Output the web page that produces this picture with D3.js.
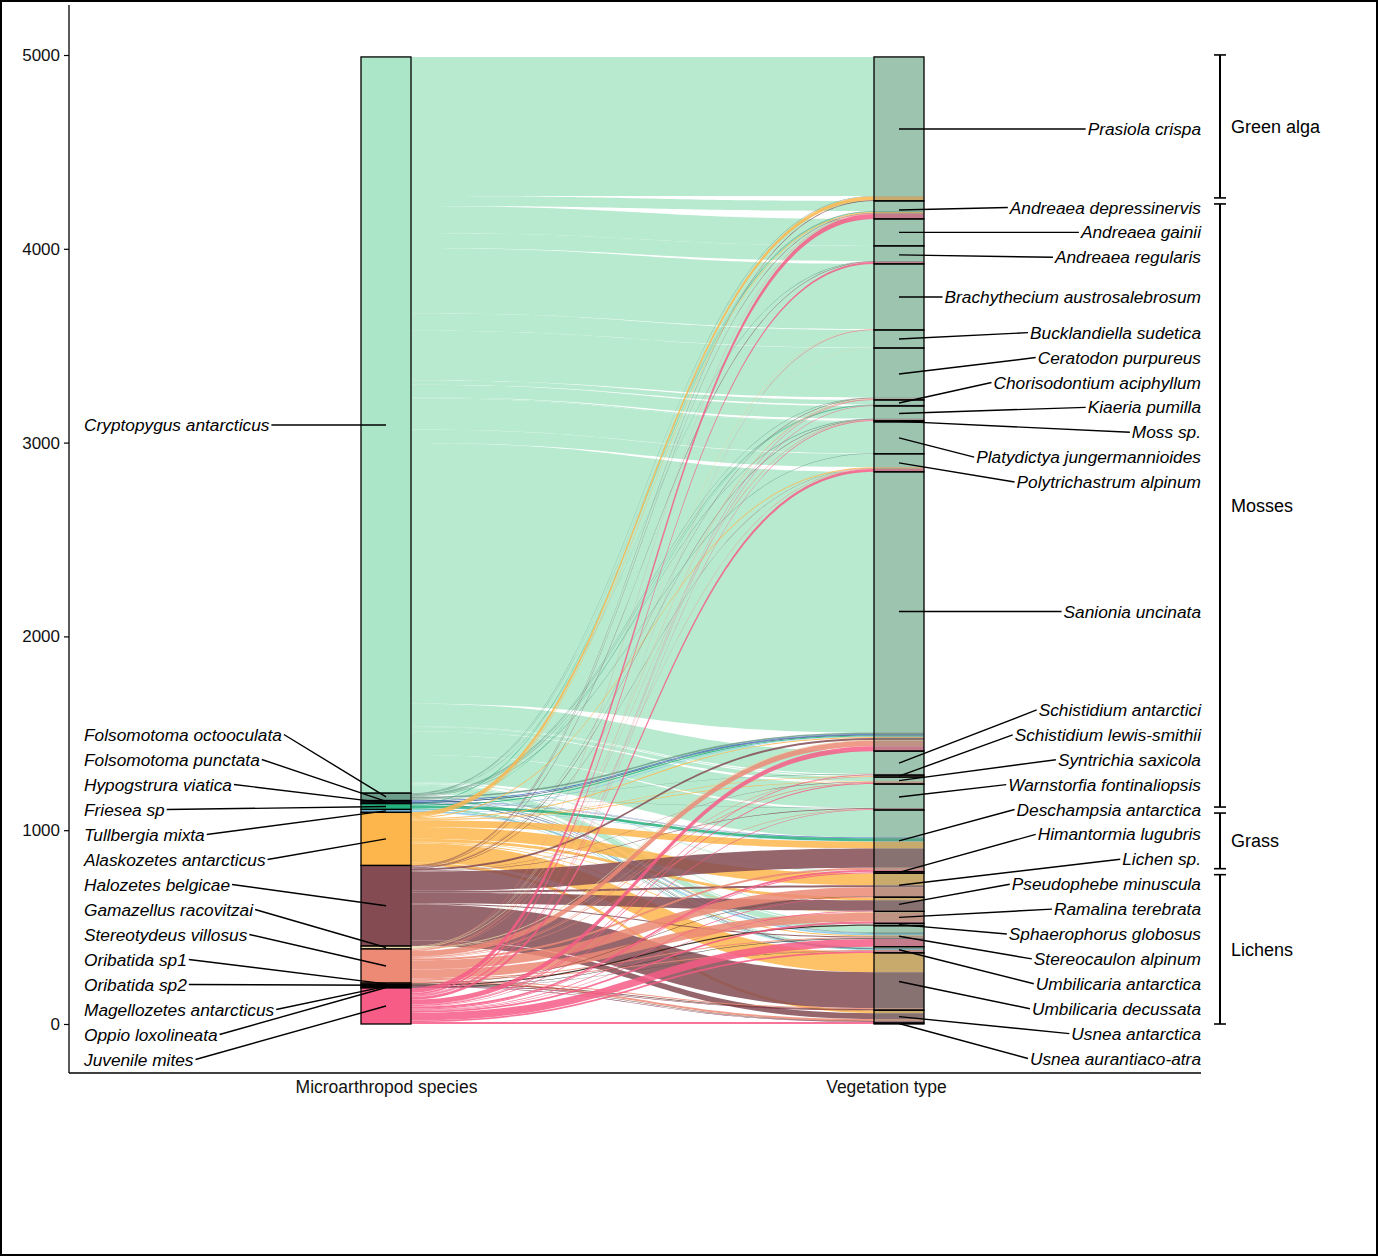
<!DOCTYPE html>
<html><head><meta charset="utf-8">
<script src="https://cdn.jsdelivr.net/npm/d3@7"></script>
<style>body{margin:0;background:#fff}svg{display:block}</style>
</head><body>
<svg id="chart" width="1378" height="1256"></svg>
<script>
// ---------------- DATA ----------------
const species = ["Cryptopygus antarcticus","Folsomotoma octooculata","Folsomotoma punctata","Hypogstrura viatica","Friesea sp","Tullbergia mixta","Alaskozetes antarcticus","Halozetes belgicae","Gamazellus racovitzai","Stereotydeus villosus","Oribatida sp1","Oribatida sp2","Magellozetes antarcticus","Oppio loxolineata","Juvenile mites"];
const speciesColors = ["#abe6c8","#6d9d8b","#3f63c4","#23406e","#24b07e","#80c6e8","#fdb64c","#844b53","#e6d2a0","#ec8a76","#6b3b2b","#2a1a12","#7a2040","#3a3a3a","#f65c86"];
const vegetation = ["Prasiola crispa","Andreaea depressinervis","Andreaea gainii","Andreaea regularis","Brachythecium austrosalebrosum","Bucklandiella sudetica","Ceratodon purpureus","Chorisodontium aciphyllum","Kiaeria pumilla","Moss sp.","Platydictya jungermannioides","Polytrichastrum alpinum","Sanionia uncinata","Schistidium antarctici","Schistidium lewis-smithii","Syntrichia saxicola","Warnstorfia fontinaliopsis","Deschampsia antarctica","Himantormia lugubris","Lichen sp.","Pseudophebe minuscula","Ramalina terebrata","Sphaerophorus globosus","Stereocaulon alpinum","Umbilicaria antarctica","Umbilicaria decussata","Usnea antarctica","Usnea aurantiaco-atra"];
const vegetationGroups = ["Green alga","Mosses","Grass","Lichens"];
const vegetationGroupIndex = [0,1,1,1,1,1,1,1,1,1,1,1,1,1,1,1,1,2,3,3,3,3,3,3,3,3,3,3];
const axisNames = ["Microarthropod species","Vegetation type"];
const yTicks = [0,1000,2000,3000,4000,5000];
// flows: [species, vegetation, count]
const flows = [
 ["Cryptopygus antarcticus","Prasiola crispa",717],["Cryptopygus antarcticus","Andreaea depressinervis",52],["Cryptopygus antarcticus","Andreaea gainii",139],["Cryptopygus antarcticus","Andreaea regularis",78],["Cryptopygus antarcticus","Brachythecium austrosalebrosum",336],["Cryptopygus antarcticus","Bucklandiella sudetica",91],["Cryptopygus antarcticus","Ceratodon purpureus",255],["Cryptopygus antarcticus","Chorisodontium aciphyllum",23],["Cryptopygus antarcticus","Kiaeria pumilla",65],["Cryptopygus antarcticus","Moss sp.",5],["Cryptopygus antarcticus","Platydictya jungermannioides",162],["Cryptopygus antarcticus","Polytrichastrum alpinum",69],["Cryptopygus antarcticus","Sanionia uncinata",1345],["Cryptopygus antarcticus","Schistidium antarctici",117],["Cryptopygus antarcticus","Schistidium lewis-smithii",4],["Cryptopygus antarcticus","Syntrichia saxicola",21],["Cryptopygus antarcticus","Warnstorfia fontinaliopsis",123],["Cryptopygus antarcticus","Deschampsia antarctica",142],["Cryptopygus antarcticus","Himantormia lugubris",3],["Cryptopygus antarcticus","Lichen sp.",2],["Cryptopygus antarcticus","Ramalina terebrata",4],["Cryptopygus antarcticus","Sphaerophorus globosus",6],["Cryptopygus antarcticus","Stereocaulon alpinum",34],["Cryptopygus antarcticus","Umbilicaria antarctica",6],
 ["Folsomotoma octooculata","Prasiola crispa",3],["Folsomotoma octooculata","Andreaea depressinervis",2],["Folsomotoma octooculata","Andreaea regularis",2],["Folsomotoma octooculata","Ceratodon purpureus",3],["Folsomotoma octooculata","Chorisodontium aciphyllum",3],["Folsomotoma octooculata","Kiaeria pumilla",3],["Folsomotoma octooculata","Platydictya jungermannioides",3],["Folsomotoma octooculata","Sanionia uncinata",8],["Folsomotoma octooculata","Schistidium antarctici",2],["Folsomotoma octooculata","Warnstorfia fontinaliopsis",2],["Folsomotoma octooculata","Stereocaulon alpinum",4],["Folsomotoma octooculata","Umbilicaria antarctica",3],
 ["Folsomotoma punctata","Sanionia uncinata",4],["Folsomotoma punctata","Deschampsia antarctica",2],["Folsomotoma punctata","Stereocaulon alpinum",2],
 ["Hypogstrura viatica","Sanionia uncinata",3],["Hypogstrura viatica","Deschampsia antarctica",2],["Hypogstrura viatica","Umbilicaria antarctica",3],
 ["Friesea sp","Andreaea depressinervis",3],["Friesea sp","Chorisodontium aciphyllum",2],["Friesea sp","Sanionia uncinata",5],["Friesea sp","Deschampsia antarctica",15],["Friesea sp","Stereocaulon alpinum",2],["Friesea sp","Umbilicaria antarctica",3],
 ["Tullbergia mixta","Sanionia uncinata",3],["Tullbergia mixta","Deschampsia antarctica",2],["Tullbergia mixta","Stereocaulon alpinum",8],["Tullbergia mixta","Umbilicaria antarctica",2],
 ["Alaskozetes antarcticus","Prasiola crispa",20],["Alaskozetes antarcticus","Andreaea depressinervis",5],["Alaskozetes antarcticus","Polytrichastrum alpinum",5],["Alaskozetes antarcticus","Sanionia uncinata",5],["Alaskozetes antarcticus","Schistidium lewis-smithii",3],["Alaskozetes antarcticus","Syntrichia saxicola",3],["Alaskozetes antarcticus","Deschampsia antarctica",35],["Alaskozetes antarcticus","Lichen sp.",60],["Alaskozetes antarcticus","Pseudophebe minuscula",15],["Alaskozetes antarcticus","Ramalina terebrata",3],["Alaskozetes antarcticus","Stereocaulon alpinum",5],["Alaskozetes antarcticus","Umbilicaria decussata",100],["Alaskozetes antarcticus","Usnea antarctica",15],
 ["Halozetes belgicae","Prasiola crispa",3],["Halozetes belgicae","Andreaea depressinervis",3],["Halozetes belgicae","Andreaea regularis",3],["Halozetes belgicae","Ceratodon purpureus",2],["Halozetes belgicae","Kiaeria pumilla",3],["Halozetes belgicae","Polytrichastrum alpinum",2],["Halozetes belgicae","Sanionia uncinata",10],["Halozetes belgicae","Syntrichia saxicola",2],["Halozetes belgicae","Warnstorfia fontinaliopsis",3],["Halozetes belgicae","Deschampsia antarctica",100],["Halozetes belgicae","Lichen sp.",10],["Halozetes belgicae","Pseudophebe minuscula",55],["Halozetes belgicae","Stereocaulon alpinum",5],["Halozetes belgicae","Umbilicaria decussata",185],["Halozetes belgicae","Usnea antarctica",30],
 ["Gamazellus racovitzai","Brachythecium austrosalebrosum",3],["Gamazellus racovitzai","Bucklandiella sudetica",2],["Gamazellus racovitzai","Ceratodon purpureus",3],["Gamazellus racovitzai","Sanionia uncinata",5],["Gamazellus racovitzai","Schistidium antarctici",2],
 ["Stereotydeus villosus","Andreaea depressinervis",3],["Stereotydeus villosus","Ceratodon purpureus",2],["Stereotydeus villosus","Kiaeria pumilla",3],["Stereotydeus villosus","Polytrichastrum alpinum",2],["Stereotydeus villosus","Sanionia uncinata",28],["Stereotydeus villosus","Schistidium lewis-smithii",3],["Stereotydeus villosus","Syntrichia saxicola",5],["Stereotydeus villosus","Warnstorfia fontinaliopsis",3],["Stereotydeus villosus","Deschampsia antarctica",10],["Stereotydeus villosus","Lichen sp.",47],["Stereotydeus villosus","Ramalina terebrata",45],["Stereotydeus villosus","Stereocaulon alpinum",5],["Stereotydeus villosus","Umbilicaria antarctica",5],["Stereotydeus villosus","Umbilicaria decussata",5],["Stereotydeus villosus","Usnea antarctica",10],
 ["Oribatida sp1","Lichen sp.",2],["Oribatida sp1","Umbilicaria decussata",3],["Oribatida sp1","Usnea antarctica",3],
 ["Oribatida sp2","Sphaerophorus globosus",6],
 ["Magellozetes antarcticus","Umbilicaria decussata",3],["Magellozetes antarcticus","Usnea antarctica",3],
 ["Oppio loxolineata","Stereocaulon alpinum",3],["Oppio loxolineata","Umbilicaria antarctica",2],
 ["Juvenile mites","Andreaea depressinervis",25],["Juvenile mites","Andreaea regularis",10],["Juvenile mites","Brachythecium austrosalebrosum",2],["Juvenile mites","Ceratodon purpureus",3],["Juvenile mites","Chorisodontium aciphyllum",3],["Juvenile mites","Kiaeria pumilla",3],["Juvenile mites","Polytrichastrum alpinum",15],["Juvenile mites","Sanionia uncinata",25],["Juvenile mites","Schistidium antarctici",3],["Juvenile mites","Syntrichia saxicola",5],["Juvenile mites","Warnstorfia fontinaliopsis",3],["Juvenile mites","Deschampsia antarctica",10],["Juvenile mites","Himantormia lugubris",5],["Juvenile mites","Lichen sp.",3],["Juvenile mites","Pseudophebe minuscula",3],["Juvenile mites","Ramalina terebrata",10],["Juvenile mites","Stereocaulon alpinum",40],["Juvenile mites","Umbilicaria antarctica",8],["Juvenile mites","Usnea antarctica",5],["Juvenile mites","Usnea aurantiaco-atra",5]
];

// ---------------- LAYOUT ----------------
const svg = d3.select("#chart");
const FONT = "'Liberation Sans', Arial, Helvetica, sans-serif";
const y = d3.scaleLinear().domain([0, 5000]).range([1024, 55]);
const x = d3.scalePoint().domain(axisNames).range([386, 899]);
const W = 50;
const xL = x(axisNames[0]), xR = x(axisNames[1]);

svg.append("rect").attr("x",1).attr("y",1).attr("width",1376).attr("height",1254)
  .attr("fill","none").attr("stroke","#000").attr("stroke-width",2);

const sIdx = new Map(species.map((d,i)=>[d,i]));
const vIdx = new Map(vegetation.map((d,i)=>[d,i]));
const F = flows.map(f=>({s:sIdx.get(f[0]), v:vIdx.get(f[1]), n:f[2]}));
const total = d3.sum(F, d=>d.n);

function stack(names, key){
  let top = total;
  return names.map((name,i)=>{
    const t = d3.sum(F.filter(f=>f[key]===i), f=>f.n);
    const o = {name, i, top, bottom: top - t, value: t};
    top -= t; return o;
  });
}
const leftStrata = stack(species, "s");
const rightStrata = stack(vegetation, "v");

leftStrata.forEach(st=>{
  let c = st.top;
  F.filter(f=>f.s===st.i).sort((a,b)=>a.v-b.v).forEach(f=>{ f.l0=c; f.l1=c-f.n; c-=f.n; });
});
rightStrata.forEach(st=>{
  let c = st.top;
  F.filter(f=>f.v===st.i).sort((a,b)=>a.s-b.s).forEach(f=>{ f.r0=c; f.r1=c-f.n; c-=f.n; });
});

const a0 = xL - W/2, a1 = xL + W/2, b0 = xR - W/2, b1 = xR + W/2, xm = (a1+b0)/2;
function ribbon(f){
  const L0=y(f.l0), L1=y(f.l1), R0=y(f.r0), R1=y(f.r1);
  return `M${a0},${L0}L${a1},${L0}C${xm},${L0} ${xm},${R0} ${b0},${R0}L${b1},${R0}L${b1},${R1}L${b0},${R1}C${xm},${R1} ${xm},${L1} ${a1},${L1}L${a0},${L1}Z`;
}
const gFlows = svg.append("g");
F.slice().sort((a,b)=>a.s-b.s || a.v-b.v).forEach(f=>{
  gFlows.append("path").attr("d", ribbon(f)).attr("fill", speciesColors[f.s]).attr("fill-opacity",0.85);
});

// strata
svg.append("g").selectAll("rect").data(leftStrata).join("rect")
  .attr("x",a0).attr("width",W).attr("y",d=>y(d.top)).attr("height",d=>y(d.bottom)-y(d.top))
  .attr("fill",d=>speciesColors[d.i]).attr("stroke","#000").attr("stroke-width",1.3);
svg.append("g").selectAll("rect").data(rightStrata).join("rect")
  .attr("x",b0).attr("width",W).attr("y",d=>y(d.top)).attr("height",d=>y(d.bottom)-y(d.top))
  .attr("fill","rgb(112,134,120)").attr("fill-opacity",0.38).attr("stroke","#000").attr("stroke-width",1.3);

// axes
const gy = svg.append("g").attr("transform","translate(69,0)")
  .call(d3.axisLeft(y).tickValues(yTicks).tickSize(5).tickPadding(4).tickFormat(d3.format("d")));
gy.select(".domain").remove();
gy.selectAll("text").attr("font-size","17px").attr("font-family",FONT).attr("fill","#111");
gy.selectAll("line").attr("stroke","#000").attr("stroke-width",1.2);
svg.append("line").attr("x1",69).attr("x2",69).attr("y1",5).attr("y2",1073).attr("stroke","#000").attr("stroke-width",1.3);
const gx = svg.append("g").attr("transform","translate(0,1073)")
  .call(d3.axisBottom(x).tickSize(0).tickPadding(8));
gx.select(".domain").remove();
gx.selectAll("text").attr("font-size","17.5px").attr("font-family",FONT).attr("fill","#111")
  .attr("dx",(d,i)=>i===1?-13:0);
svg.append("line").attr("x1",69).attr("x2",1201).attr("y1",1073).attr("y2",1073).attr("stroke","#000").attr("stroke-width",1.3);

// label dodging (1-D repel with a lower bound)
function dodge(items, gap, maxPos){
  let blocks = items.slice().sort((a,b)=>a.target-b.target || a.i-b.i).map(it=>({items:[it], center:it.target}));
  const half = b=>(b.items.length-1)/2*gap;
  let changed = true;
  while(changed){
    changed=false;
    blocks.forEach(b=>{ if(b.center+half(b)>maxPos) b.center = maxPos-half(b); });
    for(let k=0;k<blocks.length-1;k++){
      const A=blocks[k], B=blocks[k+1];
      if((B.center-half(B))-(A.center+half(A))<gap){
        const m=A.items.concat(B.items);
        blocks.splice(k,2,{items:m, center:d3.mean(m,d=>d.target)});
        changed=true; break;
      }
    }
  }
  blocks.forEach(b=>b.items.forEach((it,k)=>it.pos=b.center+(k-(b.items.length-1)/2)*gap));
  return items;
}
const leftLabels = dodge(leftStrata.map(d=>({name:d.name, i:d.i, target:(y(d.top)+y(d.bottom))/2})), 25, 1059.5);
const rightLabels = dodge(rightStrata.map(d=>({name:d.name, i:d.i, target:(y(d.top)+y(d.bottom))/2})), 24.9, 1058.5);

const gl = svg.append("g");
leftLabels.forEach(d=>{
  const t = gl.append("text").attr("x",84).attr("y",d.pos).attr("dy","0.35em")
    .attr("font-family",FONT).attr("font-style","italic").attr("font-size","17.3px").attr("fill","#000").text(d.name);
  const w = t.node().getComputedTextLength();
  gl.append("line").attr("x1",84+w+2).attr("y1",d.pos).attr("x2",xL).attr("y2",d.target)
    .attr("stroke","#000").attr("stroke-width",1.4);
});
rightLabels.forEach(d=>{
  const t = gl.append("text").attr("x",1201).attr("y",d.pos).attr("dy","0.35em").attr("text-anchor","end")
    .attr("font-family",FONT).attr("font-style","italic").attr("font-size","17.3px").attr("fill","#000").text(d.name);
  const w = t.node().getComputedTextLength();
  gl.append("line").attr("x1",xR).attr("y1",d.target).attr("x2",1201-w-2).attr("y2",d.pos)
    .attr("stroke","#000").attr("stroke-width",1.4);
});

// group brackets
const gb = svg.append("g");
vegetationGroups.forEach((g,gi)=>{
  const members = rightStrata.filter(d=>vegetationGroupIndex[d.i]===gi);
  const top = y(d3.max(members,d=>d.top)) + (gi===0 ? -2 : 3);
  const bot = y(d3.min(members,d=>d.bottom)) - (gi===vegetationGroups.length-1 ? 0 : 3);
  gb.append("line").attr("x1",1220).attr("x2",1220).attr("y1",top).attr("y2",bot).attr("stroke","#000").attr("stroke-width",2);
  [top,bot].forEach(yy=>gb.append("line").attr("x1",1214).attr("x2",1226).attr("y1",yy).attr("y2",yy).attr("stroke","#000").attr("stroke-width",1.6));
  gb.append("text").attr("x",1231).attr("y",(top+bot)/2).attr("dy","0.35em")
    .attr("font-family",FONT).attr("font-size","18px").attr("fill","#000").text(g);
});
</script>
</body></html>
